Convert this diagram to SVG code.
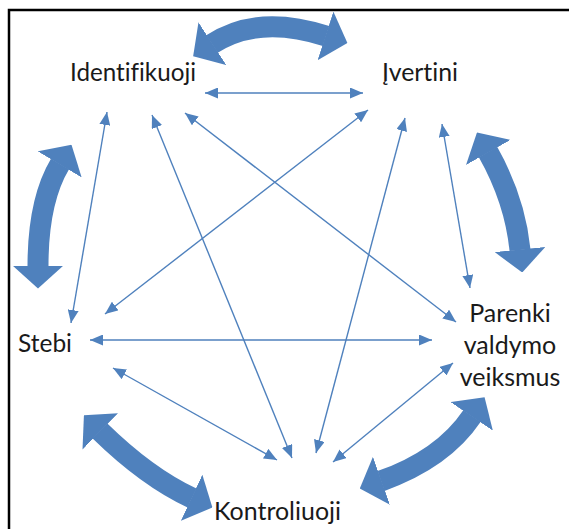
<svg xmlns="http://www.w3.org/2000/svg" width="569" height="529" viewBox="0 0 569 529">
<style>
.lbl{font-family:Lato,"Liberation Sans",sans-serif;font-size:25px;fill:#1a1a1a;font-variant-ligatures:none}
.thin{stroke:#4f81bd;stroke-width:1.4;fill:none;marker-start:url(#ah);marker-end:url(#ah)}
.thick{stroke:#4f81bd;stroke-width:21;fill:none;marker-start:url(#bh);marker-end:url(#bh)}
</style>
<defs>
<marker id="ah" markerUnits="userSpaceOnUse" viewBox="0 0 13 11" markerWidth="13" markerHeight="11" refX="13" refY="5.5" orient="auto-start-reverse"><path d="M0,0 L13,5.5 L0,11 z" fill="#4f81bd"/></marker>
<marker id="bh" markerUnits="userSpaceOnUse" viewBox="0 0 23 51" markerWidth="23" markerHeight="51" refX="0.5" refY="25.5" orient="auto-start-reverse"><path d="M0,0 L23,25.5 L0,51 z" fill="#4f81bd"/></marker>
</defs>
<rect width="569" height="529" fill="#fff"/>
<rect x="9" y="10" width="700" height="700" fill="none" stroke="#000" stroke-width="2.5"/>
<g id="connectors">
<g id="cycle">
<path class="thick" d="M212,44 Q258,14 326,36"/>
<path class="thick" d="M488,152 Q515,200 520,250"/>
<path class="thick" d="M60,164 Q38,201 38,266"/>
<path class="thick" d="M100,431 Q147,477 192,498"/>
<path class="thick" d="M472,416 Q443,459 381,481"/>
</g>
<g id="links">
<line class="thin" x1="205" y1="93" x2="363" y2="93"/>
<line class="thin" x1="107" y1="112" x2="71" y2="323"/>
<line class="thin" x1="152" y1="115" x2="292" y2="458"/>
<line class="thin" x1="185" y1="113" x2="456" y2="322"/>
<line class="thin" x1="368" y1="110" x2="105" y2="314"/>
<line class="thin" x1="405" y1="118" x2="316" y2="453"/>
<line class="thin" x1="442" y1="124" x2="470" y2="288"/>
<line class="thin" x1="90" y1="340" x2="432" y2="340"/>
<line class="thin" x1="113" y1="368" x2="277" y2="460"/>
<line class="thin" x1="453" y1="363" x2="333" y2="462"/>
</g>
</g>
<g id="identifikuoji"><text class="lbl" x="70" y="81" textLength="126" lengthAdjust="spacingAndGlyphs">Identifikuoji</text></g>
<g id="ivertini"><text class="lbl" x="382" y="81" textLength="76" lengthAdjust="spacingAndGlyphs">Įvertini</text></g>
<g id="stebi"><text class="lbl" x="18" y="352" textLength="54" lengthAdjust="spacingAndGlyphs">Stebi</text></g>
<g id="parenki"><text class="lbl" text-anchor="middle"><tspan x="510" y="322">Parenki</tspan><tspan x="510" y="354">valdymo</tspan><tspan x="510" y="386">veiksmus</tspan></text></g>
<g id="kontroliuoji"><text class="lbl" x="214" y="520" textLength="127" lengthAdjust="spacingAndGlyphs">Kontroliuoji</text></g>
</svg>
